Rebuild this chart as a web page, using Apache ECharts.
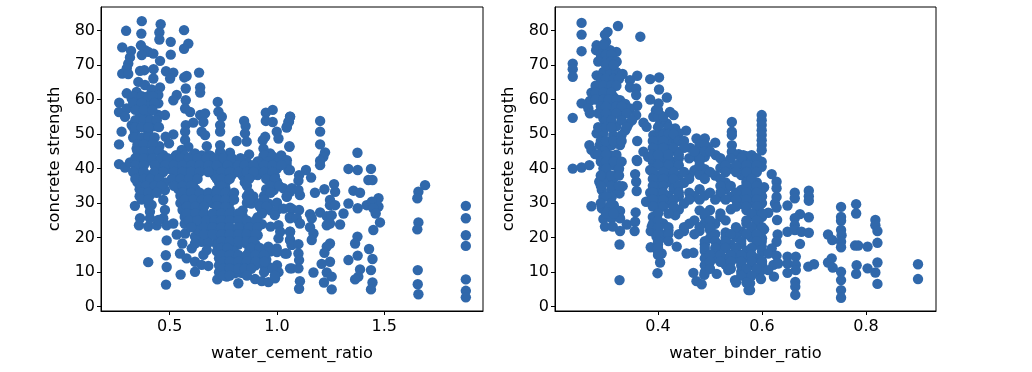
<!DOCTYPE html>
<html lang="en">
<head>
    <meta charset="UTF-8">
    <title>concrete strength</title>
    <script src="https://cdn.jsdelivr.net/npm/echarts@6/dist/echarts.min.js"></script>
    <style>
        html, body { margin: 0; padding: 0; background: #fff; }
    </style>
</head>
<body>
<div id="main" style="width:1032px;height:372px;"></div>
<script>
    // points: [ratio, strength]
    const cementPoints = [
        [.37,82.7],[.458,81.8],[.297,79.9],[.567,80.1],[.368,79.1],[.452,79.4],[.452,77.4],[.505,76.7],[.587,76.2],[.567,74.7],[.279,75.1],[.32,74.1],[.366,75.7],[.385,74.3],[.40,73.8],[.424,73.3],[.455,71.2],[.505,73],[.37,72.9],[.315,72.2],[.307,70.4],[.30,69],[.279,67.5],[.307,67.4],[.362,68.3],[.382,68.5],[.425,68.8],[.424,66.1],[.483,68.2],[.517,67.8],[.502,66.1],[.568,66.4],[.579,66.8],[.637,67.8],[.354,65.1],[.385,64.2],[.575,63.2],[.642,63.5],[.642,62],[.30,61.8],[.346,62.2],[.416,62.9],[.455,63.5],[.533,61.3],[.517,59.8],[.447,61.3],[.408,60.8],[.323,60.3],[.265,59.1],[.354,59.3],[.447,58.9],[.40,58.9],[.575,59.8],[.724,59.3],
        [.264,56.4],[.30,57.4],[.354,57],[.292,55],[.362,55],[.478,55.5],[.447,55.5],[.40,56],[.572,57.4],[.595,56.4],[.727,56.5],[.743,55],[.642,55.5],[.665,56],[.657,53.5],[.323,52.6],[.385,53.1],[.432,52.3],[.575,52.6],[.61,53.3],[.735,52.6],[.847,53.8],[.854,52.3],[.948,56.2],[.98,57],[.948,53.8],[.98,53.5],[1.061,55],[1.046,52.1],[1.053,53.5],[.276,50.7],[.338,50.7],[.40,50.7],[.572,50.7],[.649,50.7],[.735,50.7],[.851,50.2],[.999,50.7],[.517,49.9],[.481,49.2],[.665,49.7],[.497,47.3],[.572,48.3],[.264,47],[.346,45.8],[.40,47.3],[.452,46.5],[.735,46.8],[.673,46.5],[.812,48],[.859,47.8],[.945,49.2],[.934,48.2],[1.007,48.7],[1.058,46.5],[.937,45.8],[.587,46.3],[.556,45.4],[.618,44.4],[.47,43.9],[.40,44.4],[.68,43.9],[.781,44.6],[.735,44.9],[.87,44.1],[.937,43.6],[.968,44.4],[.525,43.4],[.354,44.4],
        [.264,41.3],[.292,40.3],[.315,41.8],
        [.53,43.9],[.57,43.7],[.61,43.9],[.65,43.8],[.69,43.7],[.78,43.6],[.94,43.9],[.98,43.5],[1.02,43.8],
        [.354,42],[.385,41.8],[.416,42.3],[.47,42],[.54,42.2],[.58,41.8],[.62,42],[.66,42.1],[.70,41.8],[.75,42.2],[.80,42],[.86,41.8],[.91,42.1],[.96,42],[1.0,41.7],[1.046,42.4],
        [.35,40],[.45,40.2],[.50,39.9],[.54,40],[.58,40.2],[.62,39.8],[.66,40.1],[.72,40],[.76,39.8],[.80,40.2],[.83,41],[.87,40],[.92,40.1],[.96,39.8],[1.0,40],[1.06,39.6],
        [.36,38],[.41,38.1],[.45,37.8],[.53,38],[.57,38.1],[.61,37.9],[.71,38],[.75,37.8],[.79,38.2],[.84,38],[.88,37.9],[.91,38.1],[.95,38],[.99,37.8],
        [.35,36],[.385,36.2],[.43,35.9],[.478,36],[.53,36.2],[.57,35.8],[.61,36],[.73,36],[.76,35.8],[.85,36],[.97,36],[1.0,36.1],[1.03,34.3],
        [.36,34],[.41,34.2],[.478,33.8],[.54,34.1],[.58,33.9],[.62,34],[.72,33.8],[.76,34.2],[.95,34],[.985,33.8],[1.069,34.3],
        [.36,32],[.408,32.3],[.55,32.1],[.58,31.9],[.62,32],[.66,31.9],[.70,32.2],[.74,32],[.78,31.8],[.86,32],[.89,31.9],[.94,32.1],[1.046,31.8],
        [.55,30],[.59,30.2],[.63,29.9],[.66,30.1],[.70,30],[.74,29.8],[.78,30.2],[.86,30.1],[.88,29.9],[.92,30],[.96,29.9],[1.0,30.1],
        [.56,28],[.60,28.2],[.64,27.9],[.74,28],[.78,28.1],[.84,27.9],[.93,28.2],[.97,27.9],[1.0,28],[1.03,28.4],[1.07,28.3],
        [.57,26],[.61,26.2],[.65,25.9],[.69,26],[.72,26.1],[.76,25.9],[.79,26],[.84,26.2],[.91,25.9],[.99,26.5],[1.06,26],
        [.57,24],[.60,24.2],[.64,23.9],[.68,24],[.72,24.1],[.76,23.9],[.85,24],[.89,24.1],[.93,23.9],[.97,23.2],
        [.63,22],[.68,22.2],[.74,22],[.78,21.9],[.82,22.1],[.86,22],[.89,21.8],
        [.72,20],[.76,20.1],[.80,19.9],[.84,20],[.88,20.1],[.91,20.7],
        [1.007,23.6],[1.015,21.7],[1.007,19.8],[1.061,21.7],[1.061,19.3],[1.069,17.9],[.96,17.4],[.999,16.9],[1.038,15.4],
        [.72,18],[.75,18.1],[.78,17.9],[.82,18],[.86,18.1],[.90,18],
        [.72,16],[.75,16.1],[.80,15.9],[.87,16],[.91,16.1],[.94,15.9],[.97,16],[1.0,15.8],
        [.73,14],[.77,14.1],[.80,13.9],[.84,14],[.88,14.1],[.92,13.9],[.95,13.6],
        [.73,12],[.76,12.1],[.80,11.9],[.83,12],[.86,12.1],[.90,12],[.94,11.9],[.96,11.6],[1.0,12],
        [.73,10],[.76,10.1],[.80,10],[.83,9.9],[.86,10.1],[.94,10],
        [.722,7.9],[.766,8.7],[.82,6.8],[.898,8],[.929,7.4],[.96,7.1],[.991,8.2],[1.007,10],[1.069,11.1],[.843,9.7],[.805,9.7],
        [.354,37.5],[.385,33.5],[.385,31.5],[.416,36.5],[.416,29.5],[.338,29.2],[.404,29.4],[.408,27.5],
        [.362,25.6],[.357,23.6],[.40,23.2],[.44,23.6],[.408,25.6],[.47,25.6],[.486,23.6],[.517,24.1],[.447,25.1],[.478,28],[.47,30.9],
        [.533,20.9],[.572,21.2],[.559,18.3],[.548,15.4],[.579,14],[.618,13],[.649,12.1],[.68,11.8],[.618,10.1],[.603,16.9],[.657,15],[.649,18.8],[.673,20.7],[.618,20.3],[.618,18.3],[.68,18.6],[.673,16.4],[.634,22.2],[.68,22.2],
        [.486,19.2],[.482,14.9],[.486,11.5],[.40,12.9],[.551,9.3],[.483,6.4],
        [1.061,55],[1.056,53.6],[1.045,51.9],[1.201,53.8],[1.201,50.7],[1.201,47],[1.224,44.7],[1.216,43.4],[1.201,42.3],[1.201,41],[1.058,46.3],[1.045,41.3],[1.053,39.6],[1.375,44.6],[1.333,39.9],[1.376,39.6],[1.438,39.9],[1.426,36.7],[1.445,36.7],[1.135,39.6],[1.103,38.1],[1.1,36.5],[1.159,37.4],[1.266,35.5],[1.221,34],[1.177,33],[1.271,33.3],[1.107,32.3],[1.1,33.8],[1.061,33.3],[1.045,32],[1.356,33.6],[1.387,33],[1.473,31.4],[1.247,30.9],[1.247,29.4],[1.271,29.4],[1.333,29.9],[1.376,28.5],[1.418,29.4],[1.442,30.4],[1.473,29],[1.449,28.5],[1.46,27],[1.48,24.4],[1.449,22.2],[1.31,27],
        [1.061,28.7],[1.103,28],[1.201,27.3],[1.154,26.8],[1.162,25.6],[1.232,26.2],[1.255,26.5],[1.061,25.6],[1.092,25.6],[1.107,24.1],[1.232,23.6],[1.247,24.1],[1.294,23.8],[1.154,23],[1.061,21.7],[1.17,21.2],[1.061,19.3],[1.162,19.3],[1.069,17.9],[1.1,18.1],[1.375,20.3],[1.364,18.3],[1.247,18.3],[1.232,17.4],[1.221,15.6],[1.045,15.4],[1.1,15.4],[1.103,13.5],[1.061,11.1],[1.1,11.1],[1.376,14.8],[1.333,13.5],[1.429,16.7],[1.445,13.8],[1.247,13],[1.208,12.4],[1.438,10.6],[1.387,10.8],[1.17,9.9],[1.232,9.9],[1.255,8.7],[1.379,8.7],[1.364,7.9],[1.107,7.4],[1.219,7],[1.445,7],[1.103,5.2],[1.255,5],[1.438,5],
        [1.69,35.2],[1.659,33.3],[1.654,31.4],[1.659,24.4],[1.654,22.4],[1.656,10.6],[1.656,6.5],[1.659,3.6],
        [1.88,29.2],[1.88,25.6],[1.88,20.7],[1.88,17.6],[1.88,7.9],[1.88,4.6],[1.88,2.7],
        // the solid middle of the cloud
        [.33,61],[.37,61],[.40,61],[.42,61],[.33,59],[.37,59],[.43,59],[.34,57],[.38,57],[.42,57],[.34,54],[.38,54],[.41,54],[.44,54],[.33,52],[.34,52],[.37,52],[.40,52],[.45,52],[.33,49],[.34,49],[.37,49],[.40,49],[.43,49],[.35,47],[.38,47],[.42,47],[.35,45],[.38,45],[.42,45],[.45,45],
        [.34,43],[.38,43],[.42,43],[.46,43],[.49,43],[.55,43],[.59,43],[.63,43],[.67,43],[.71,43],[.75,43],[.79,43],[.83,43],
        [.34,41],[.38,41],[.43,41],[.48,41],[.52,41],[.56,41],[.60,41],[.64,41],[.68,41],[.72,41],[.77,41],[.82,41],[.85,41],[.89,41],[.94,41],[.98,41],[1.02,41],
        [.33,39],[.38,39],[.43,39],[.47,39],[.52,39],[.56,39],[.60,39],[.64,39],[.68,39],[.74,39],[.78,39],[.82,39],[.86,39],[.89,39],[.94,39],[.98,39],
        [.34,37],[.38,37],[.41,37],[.45,37],[.51,37],[.55,37],[.59,37],[.63,37],[.72,37],[.74,37],[.78,37],[.87,37],[.95,37],[.99,37],
        [.37,35],[.39,35],[.43,35],[.46,35],[.52,35],[.56,35],[.60,35],[.74,35],[.86,35],[.97,35],[1.01,35],
        [.37,33],[.40,33],[.44,33],[.56,33],[.60,33],[.64,33],[.68,33],[.72,33],[.76,33],[.80,33],[.87,33],[.97,33],
        [.37,31],[.40,31],[.57,31],[.61,31],[.65,31],[.68,31],[.72,31],[.76,31],[.80,31],[.87,31],[.94,31],
        [.58,29],[.62,29],[.66,29],[.72,29],[.76,29],[.92,29],[.95,29],
        [.58,27],[.62,27],[.66,27],[.70,27],[.74,27],[.78,27],[.82,27],[.93,27],
        [.59,25],[.63,25],[.67,25],[.71,25],[.74,25],[.78,25],[.82,25],[.86,25],[.90,25],
        [.60,23],[.66,23],[.70,23],[.74,23],[.78,23],[.82,23],[.87,23],[.91,23],
        [.66,21],[.70,21],[.74,21],[.78,21],[.82,21],[.86,21],[.90,21],
        [.74,19],[.78,19],[.82,19],[.86,19],[.89,19],[.74,17],[.77,17],[.88,17],[.92,17],
        [.74,15],[.78,15],[.82,15],[.86,15],[.90,15],[.94,15],[.75,13],[.78,13],[.82,13],[.86,13],[.90,13],[.94,13],
        [.75,11],[.78,11],[.82,11],[.85,11],[.88,11],[.98,11],[.75,9],[.78,9],[.86,9],[.99,9]
    ];
    const binderPoints = [
        [.253,82.2],[.253,78.8],[.253,74],[.323,81.3],[.303,79.6],[.298,78.8],[.366,78.2],[.30,76.7],[.282,75.7],[.281,74.3],[.32,73.8],[.295,74.3],[.308,74.3],[.295,71.4],[.304,72.4],[.32,70.9],[.308,69.5],[.236,70.4],[.236,68.8],[.236,66.6],
        [.282,67],[.295,68],[.308,68],[.32,68],[.332,67.4],[.36,66.9],[.385,65.9],[.402,66.4],[.346,65.6],[.346,63.5],[.358,63.2],[.402,62.9],[.358,61.3],[.417,60.6],[.385,60],
        [.295,65.6],[.308,65.6],[.288,63.7],[.301,63.7],[.272,62],[.288,61.3],[.301,61.3],[.314,60.8],[.269,59.6],[.253,58.9],[.266,57.4],[.269,56],[.327,59.8],[.337,58.7],[.314,58.4],[.36,58.2],[.346,57.4],[.358,55.5],[.401,58.9],[.396,56.9],[.295,56.4],[.311,56.4],[.327,55.5],[.295,54.5],[.236,54.7],[.423,56.4],[.43,55.5],[.404,55.5],[.391,55],
        [.372,53.3],[.378,52.1],[.404,53.1],[.417,53.1],[.343,52.9],[.32,52.3],[.295,52.1],[.337,51.1],[.282,50.2],[.295,50.2],[.314,49.7],[.33,49.7],[.391,49.7],[.404,50.2],[.417,50.7],[.433,51.6],[.454,51],[.44,50.2],[.36,48],[.542,53.5],[.542,50.7],[.542,49.7],[.542,46.8],[.542,44.9],
        [.268,46.8],[.272,45.4],[.279,44.2],[.288,46.8],[.298,45.4],[.311,46.8],[.327,46.8],[.308,43.9],[.295,43.9],[.474,48.7],[.49,48.7],[.51,47.5],[.436,44.9],[.372,44.9],[.404,46.3],[.417,46.3],[.404,48.3],[.43,48.3],[.417,48.3],[.462,46],[.478,45.8],[.494,46.3],[.511,43.9],[.397,43.9],[.41,43.9],[.359,42.5],[.381,43.4],[.474,43.4],[.49,43.4],[.555,44.2],[.57,43.6],
        [.236,40],[.253,40.3],[.268,41],[.295,40],[.314,41],[.324,39.6],[.301,38.6],[.287,36.2],[.301,36.2],[.314,37.1],[.332,34.9],[.292,33.8],[.311,33.8],[.326,32.8],[.295,31.8],[.311,31.8],
        [.356,38.4],[.358,36.2],[.359,33.5],[.36,42.2],[.272,29.1],[.292,28.5],[.304,28.7],[.315,29.4],[.327,27.7],[.357,27.3],[.295,25.4],[.311,25.6],[.327,25.6],[.34,23.8],[.298,23.2],[.313,23.2],[.327,21.9],[.356,24.6],[.355,21.9],[.326,18],[.326,7.7],
        [.377,30.4],[.385,33],[.385,39.6],[.388,23.2],[.386,21.9],[.397,25.6],[.41,20.7],[.397,20.3],[.386,17.2],[.407,15.4],[.404,12.8],[.399,9.7],[.436,17.4],[.455,15.4],[.468,15.6],[.468,9.8],[.474,7.4],[.484,6.5],[.489,9.2],[.513,9.5],[.548,7.7],[.574,4.8],[.574,6.8],[.564,9.2],[.535,10.6],
        [.39,42],[.41,42.1],[.43,41.9],[.48,42.2],[.53,41.8],[.56,42.1],[.58,42],
        [.39,40],[.41,40.2],[.43,39.9],[.47,39.5],[.49,39.8],[.52,40.2],[.54,40],[.56,39.9],[.575,40.1],
        [.40,38],[.42,38.1],[.44,37.9],[.46,38],[.48,38.2],[.51,38],[.56,38.1],[.58,38],
        [.40,36],[.42,36.1],[.45,35.9],[.53,36],[.57,36.1],[.59,36],
        [.40,34],[.43,34.1],[.48,34],[.53,34],[.56,33.8],[.58,34.1],[.60,34],
        [.40,32],[.42,32.1],[.44,31.9],[.47,32],[.49,32.2],[.52,32],[.54,31.8],[.56,32.1],[.58,32],[.60,31.9],
        [.40,30],[.42,30.1],[.45,29.9],[.56,29.8],[.58,30.1],[.60,30],
        [.40,28],[.44,28.1],[.48,27.9],[.50,28],[.54,28.2],[.57,28],[.59,27.8],
        [.39,26],[.433,26.5],[.49,26.2],[.52,26],[.58,26.1],[.60,26],
        [.39,24],[.41,24.1],[.46,24],[.49,24.2],[.51,24],[.57,24.1],[.59,24],
        [.40,22],[.42,22.1],[.45,21.9],[.48,22],[.50,22.2],[.53,21.5],[.56,21.8],[.58,22.1],[.60,22],
        [.40,20],[.41,20.1],[.50,19.9],[.53,20],[.55,20.2],[.58,20],[.60,19.8],
        [.40,18],[.49,18.1],[.52,17.9],[.54,18],[.56,18.2],[.59,18],
        [.40,16],[.49,16.1],[.51,15.9],[.55,16],[.57,16.2],[.60,16],
        [.49,14],[.51,14.1],[.53,13.9],[.55,14],[.57,14.2],[.59,14],
        [.49,12],[.53,12.1],[.56,11.9],[.58,12],[.60,12.2],
        [.49,10],[.56,10.1],[.59,9.9],
        [.5994,55.5],[.5994,54],[.5994,52.6],[.5994,51.1],[.5994,49.7],[.5994,48.2],[.5994,46.8],[.5994,45.3],[.5994,42],[.5994,40.5],[.564,43.9],[.58,43.9],
        [.6186,38.4],[.628,36.2],[.604,34.6],[.628,34.3],[.628,31.8],[.625,29.9],[.649,29.3],[.663,33],[.663,31.4],[.69,33.6],[.69,32],[.69,30.7],[.596,29.4],[.612,27.2],[.628,28.7],[.629,25.1],[.593,24.9],[.604,22.4],
        [.673,26.8],[.663,25.6],[.69,25.9],[.663,23.6],[.649,21.7],[.663,22.2],[.676,21.7],[.69,21.4],[.63,20.9],[.673,18.2],[.5994,18.8],[.5994,17.4],[.628,18.8],[.6186,16.9],[.612,15.4],[.628,14.8],[.5994,13.3],[.5994,10.6],[.598,8],[.622,12.1],[.631,12.5],[.612,10.6],[.623,8.7],[.649,14.5],[.665,14.5],[.649,12.5],[.665,12.1],[.649,9.8],[.665,10.6],
        [.689,11.6],[.7,12.3],[.664,7.2],[.664,5.8],[.664,3.4],[.577,6.8],[.577,4.8],
        [.752,28.9],[.781,29.7],[.781,27],[.752,26],[.752,24.9],[.818,25.1],[.818,23.6],[.822,21.9],[.752,22.2],[.753,20.7],[.727,20.9],[.735,19.3],[.752,18.8],[.752,17.2],[.779,17.7],[.785,17.7],[.803,17.4],[.822,18.5],
        [.734,14],[.727,12.8],[.736,11.3],[.752,10.1],[.752,7.7],[.752,4.8],[.752,2.6],[.782,12],[.781,9.5],[.803,11.1],[.818,9.9],[.822,12.8],[.822,6.6],[.9,12.3],[.9,8],
        // the solid middle of the cloud
        [.40,43],[.42,43],[.44,43],[.46,43],[.48,43],[.52,43],[.54,43],[.56,43],[.59,43],
        [.40,41],[.42,41],[.44,41],[.48,41],[.53,41],[.55,41],[.57,41],[.59,41],
        [.39,39],[.41,39],[.43,39],[.45,39],[.50,39],[.53,39],[.55,39],[.57,39],[.59,39],
        [.39,37],[.41,37],[.43,37],[.46,37],[.49,37],[.52,37],[.58,37],
        [.39,35],[.41,35],[.44,35],[.52,35],[.54,35],[.57,35],[.59,35],
        [.39,33],[.41,33],[.44,33],[.46,33],[.50,33],[.52,33],[.55,33],[.57,33],[.59,33],
        [.39,31],[.41,31],[.43,31],[.46,31],[.48,31],[.51,31],[.53,31],[.55,31],[.57,31],[.59,31],
        [.39,29],[.41,29],[.43,29],[.55,29],[.57,29],[.59,29],
        [.40,27],[.42,27],[.49,27],[.52,27],[.58,27],[.60,27],
        [.40,25],[.47,25],[.50,25],[.53,25],[.57,25],[.59,25],
        [.40,23],[.42,23],[.45,23],[.48,23],[.50,23],[.55,23],[.58,23],[.60,23],
        [.40,21],[.42,21],[.44,21],[.47,21],[.51,21],[.54,21],[.57,21],[.59,21],
        [.40,19],[.42,19],[.49,19],[.51,19],[.53,19],[.56,19],[.59,19],
        [.40,17],[.49,17],[.51,17],[.53,17],[.55,17],[.58,17],
        [.40,15],[.50,15],[.52,15],[.54,15],[.56,15],[.58,15],
        [.50,13],[.52,13],[.54,13],[.56,13],[.58,13],[.60,13],
        [.50,11],[.54,11],[.57,11],[.59,11],[.56,9],[.58,9],[.55,7],[.57,7],
        [.296,76],[.29,73],[.30,73],[.31,73],[.285,71],[.30,71],[.31,71],[.32,71],[.30,70],[.315,70],
        [.29,66],[.30,66],[.315,66],[.325,66],[.28,64],[.295,64],[.31,64],[.32,64],[.28,62],[.295,62],[.31,62],
        [.28,60],[.295,60],[.305,60],[.32,60],[.29,58],[.30,58],[.32,58],[.33,58],[.285,56],[.30,56],[.32,56],[.34,56],
        [.30,54],[.31,54],[.33,54],[.35,54],[.285,52],[.30,52],[.31,52],[.34,52],[.29,48],[.30,48],[.315,48],[.33,48],
        [.285,44],[.30,44],[.32,44],[.29,42],[.30,42],[.315,42],[.33,42],[.30,40],[.325,40],[.29,38],[.31,38],[.325,38],
        [.29,35],[.31,35],[.325,35],[.30,32],[.29,30],[.31,30],[.30,27],[.315,27],
        [.40,52],[.42,52],[.41,50],[.42,50],[.43,50],[.39,48],[.41,48],[.44,48],[.45,48],[.39,46],[.41,46],[.43,46],[.45,46],
        [.39,44],[.40,44],[.42,44],[.44,44],[.40,55],[.41,55],[.40,57],[.48,47],[.49,47],[.47,45],[.49,45],[.50,45]
    ];
    const cementTicks = [0.5, 1.0, 1.5];
    const binderTicks = [0.4, 0.6, 0.8];
    const strengthTicks = [0, 10, 20, 30, 40, 50, 60, 70, 80];

    const nameFont = { fontFamily: 'DejaVu Sans', fontSize: 16.3, color: '#000' };
    const tickFont = { fontFamily: 'DejaVu Sans', fontSize: 16, color: '#000' };

    function makeX(name, ticks, min, max) {
        return {
            type: 'value', name: name, nameLocation: 'middle', nameGap: 35,
            nameTextStyle: nameFont, min: min, max: max, splitLine: { show: false },
            axisLine: { onZero: false, lineStyle: { color: '#000', width: 1 } },
            axisTick: { length: 4, lineStyle: { color: '#000' }, customValues: ticks },
            axisLabel: Object.assign({ margin: 8, customValues: ticks, formatter: v => v.toFixed(1) }, tickFont)
        };
    }
    function makeY() {
        return {
            type: 'value', name: 'concrete strength', nameLocation: 'middle', nameGap: 38,
            nameTextStyle: nameFont, min: -1.25, max: 86.8, splitLine: { show: false },
            axisLine: { onZero: false, lineStyle: { color: '#000', width: 1 } },
            axisTick: { length: 4, lineStyle: { color: '#000' }, customValues: strengthTicks },
            axisLabel: Object.assign({ margin: 6, customValues: strengthTicks }, tickFont)
        };
    }
    function makeSeries(i, data) {
        return {
            type: 'scatter', xAxisIndex: i, yAxisIndex: i, data: data, symbolSize: 10.4,
            itemStyle: { color: '#3068ab', opacity: 1 }, progressive: 0
        };
    }

    let myChart = echarts.init(document.getElementById('main'));
    myChart.setOption({
        animation: false,
        backgroundColor: '#fff',
        grid: [
            { left: 101, top: 7, width: 382, height: 304, show: true, borderColor: '#000', borderWidth: 1 },
            { left: 555, top: 7, width: 381, height: 304, show: true, borderColor: '#000', borderWidth: 1 }
        ],
        xAxis: [
            Object.assign(makeX('water_cement_ratio', cementTicks, 0.18, 1.96), { gridIndex: 0 }),
            Object.assign(makeX('water_binder_ratio', binderTicks, 0.2019, 0.9346), { gridIndex: 1 })
        ],
        yAxis: [
            Object.assign(makeY(), { gridIndex: 0 }),
            Object.assign(makeY(), { gridIndex: 1 })
        ],
        series: [makeSeries(0, cementPoints), makeSeries(1, binderPoints)]
    });
</script>
</body>
</html>
